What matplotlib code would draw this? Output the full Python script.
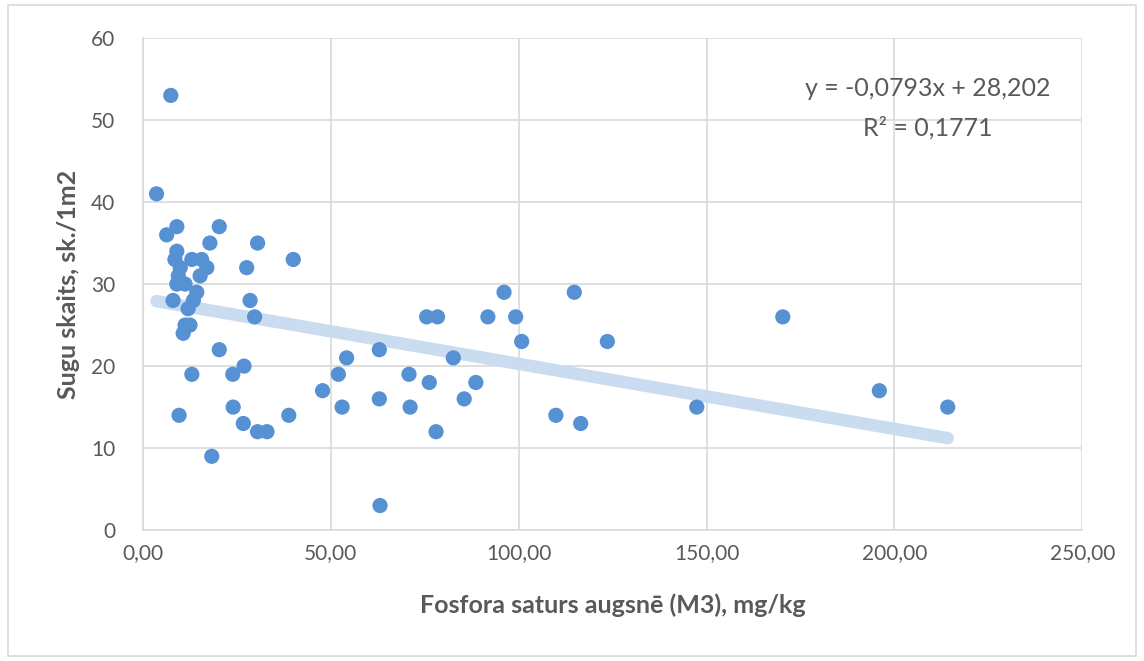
import matplotlib.pyplot as plt
from matplotlib.patches import Rectangle

plt.rcParams['font.family'] = ['Lato', 'DejaVu Sans']

# phosphorus content (M3), mg/kg
fosfors = [3.6, 7.4, 6.3, 9.0, 20.3, 17.8, 30.5, 9.0, 8.5, 9.9, 13.0, 15.6,
           17.0, 15.2, 9.4, 9.0, 11.2, 27.6, 40.0, 8.0, 14.3, 13.4, 28.5, 12.0,
           29.7, 11.2, 12.5, 10.7, 20.3, 26.9, 23.9, 13.0, 47.8, 24.0, 9.6,
           38.8, 26.7, 30.5, 33.0, 18.3, 63.1, 96.1, 114.8, 75.5, 78.4, 91.8,
           99.2, 100.8, 123.6, 62.9, 82.6, 54.2, 52.0, 70.8, 76.2, 88.6, 62.9,
           85.5, 71.1, 53.0, 78.0, 109.9, 116.5, 170.3, 147.4, 196.0, 214.2]
# species count per 1 m2
sugas = [41, 53, 36, 37, 37, 35, 35, 34, 33, 32, 33, 33,
         32, 31, 31, 30, 30, 32, 33, 28, 29, 28, 28, 27,
         26, 25, 25, 24, 22, 20, 19, 19, 17, 15, 14,
         14, 13, 12, 12, 9, 3, 29, 29, 26, 26, 26,
         26, 23, 23, 22, 21, 21, 19, 19, 18, 18, 16,
         16, 15, 15, 12, 14, 13, 26, 15, 17, 15]

slope = -0.0793
intercept = 28.202
r2 = 0.1771

x_ticks = [0, 50, 100, 150, 200, 250]
y_ticks = [0, 10, 20, 30, 40, 50, 60]

text_col = '#595959'
grid_col = '#d9d9d9'

fig = plt.figure(figsize=(11.44, 6.61), dpi=100)
fig.patches.append(Rectangle((0.007, 0.008), 0.986, 0.984, transform=fig.transFigure,
                             fill=False, edgecolor='#d9d9d9', linewidth=1.2))
ax = fig.add_axes([0.125, 0.198, 0.821, 0.7445])

# linear trendline across the data range
x0, x1 = min(fosfors), max(fosfors)
ax.plot([x0, x1], [slope * x0 + intercept, slope * x1 + intercept],
        color='#c9dcf0', linewidth=9, solid_capstyle='round', zorder=2)

ax.scatter(fosfors, sugas, s=120, color='#5591d3', edgecolors='none', zorder=3)

ax.set_xlim(0, 250)
ax.set_ylim(0, 60)
ax.set_xticks(x_ticks)
ax.set_yticks(y_ticks)
ax.set_xticklabels([f'{v:.2f}'.replace('.', ',') for v in x_ticks])
ax.set_yticklabels([str(v) for v in y_ticks])
ax.tick_params(length=0, labelsize=15, labelcolor=text_col)
ax.tick_params(axis='y', pad=20)
ax.tick_params(axis='x', pad=9)

ax.grid(True, color=grid_col, linewidth=1.2)
ax.set_axisbelow(True)
for side in ['top', 'right']:
    ax.spines[side].set_visible(False)
for side in ['left', 'bottom']:
    ax.spines[side].set_color(grid_col)
    ax.spines[side].set_linewidth(1.2)

ax.set_xlabel('Fosfora saturs augsnē (M3), mg/kg', fontsize=18, fontweight='bold',
              color=text_col, labelpad=22)
ax.set_ylabel('Sugu skaits, sk./1m2', fontsize=18, fontweight='bold',
              color=text_col, labelpad=8)

eq = f'y = {slope:.4f}x + {intercept:.3f}'.replace('.', ',')
ax.text(0.836, 0.897, eq, transform=ax.transAxes, ha='center', va='center',
        fontsize=18, color=text_col)
ax.text(0.836, 0.818, f'R² = {r2:.4f}'.replace('.', ','), transform=ax.transAxes,
        ha='center', va='center', fontsize=18, color=text_col)

plt.savefig('out.png', dpi=100, facecolor='white')
